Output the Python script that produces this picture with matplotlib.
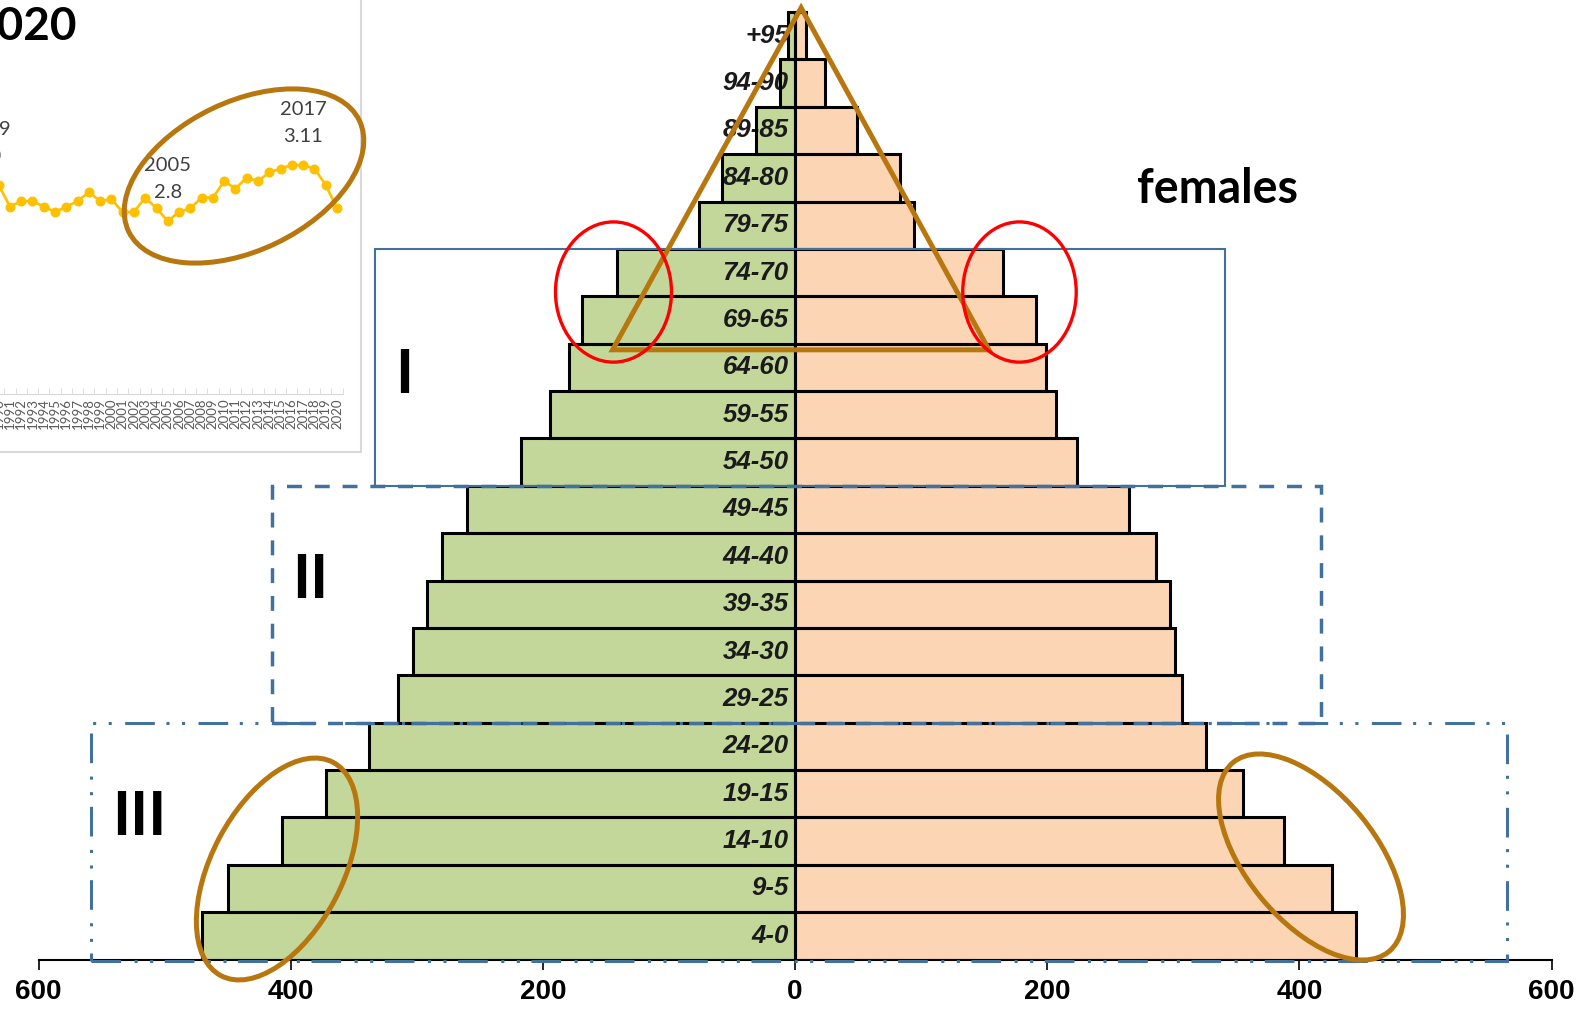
import matplotlib
matplotlib.use("Agg")
import matplotlib.pyplot as plt
from matplotlib.patches import Rectangle, Ellipse, Polygon

# -------- data --------
age_groups = ["4-0", "9-5", "14-10", "19-15", "24-20", "29-25", "34-30", "39-35",
              "44-40", "49-45", "54-50", "59-55", "64-60", "69-65", "74-70",
              "79-75", "84-80", "89-85", "94-90", "+95"]
males = [470, 450, 407, 372, 338, 315, 303, 292, 280, 260,
         217, 194, 179, 169, 141, 76, 58, 31, 12, 5.5]
females = [445, 426, 388, 355, 326, 307, 301, 297, 286, 265,
           224, 207, 199, 191, 165, 94, 83, 49, 24, 9]
x_ticks = [-600, -400, -200, 0, 200, 400, 600]

# inset: yearly series (top-left crop of another chart)
years = list(range(1990, 2021))
rate = [3.00, 2.88, 2.91, 2.91, 2.88, 2.85, 2.88, 2.91, 2.96, 2.91,
        2.92, 2.85, 2.85, 2.93, 2.87, 2.80, 2.85, 2.87, 2.93, 2.93,
        3.02, 2.98, 3.04, 3.02, 3.07, 3.09, 3.11, 3.11, 3.09, 3.00, 2.87]
point_labels = [(1989, 3.0, "1989\n3.0"), (2005, 2.8, "2005\n2.8"), (2017, 3.11, "2017\n3.11")]

GREEN = "#C4D79B"
PEACH = "#FCD5B5"
BLUE = "#41719C"
BROWN = "#B8760F"
ARIAL = ["Liberation Sans", "DejaVu Sans"]

W, H = 1587, 1010
fig = plt.figure(figsize=(W / 100, H / 100), dpi=100)

# -------- pyramid --------
ax = fig.add_axes([38.5 / W, 50.5 / H, 1513.1 / W, 959.3 / H])
pos = range(len(age_groups))
# fill first, labels, then outlines on top
ax.barh(pos, [-m for m in males], height=1.0, color=GREEN, linewidth=0, zorder=1)
ax.barh(pos, females, height=1.0, color=PEACH, linewidth=0, zorder=1)
for i, lab in enumerate(age_groups):
    ax.text(-5, i, lab, ha="right", va="center", fontsize=18.5, fontweight="bold",
            fontstyle="italic", family=ARIAL, color="#1a1a1a", zorder=2)
ax.barh(pos, [-m for m in males], height=1.0, fill=False, edgecolor="black", linewidth=2.2, zorder=2.5)
ax.barh(pos, females, height=1.0, fill=False, edgecolor="black", linewidth=2.2, zorder=2.5)

ax.set_xlim(-600, 600)
ax.set_ylim(-0.5, 19.75)
ax.set_xticks(x_ticks)
ax.set_xticklabels([str(abs(v)) for v in x_ticks], fontsize=20, fontweight="bold", family=ARIAL)
ax.set_yticks([])
for s in ["left", "right", "top"]:
    ax.spines[s].set_visible(False)
ax.spines["bottom"].set_linewidth(1.5)
ax.tick_params(axis="x", direction="out", length=7, width=1.2, pad=7)
ax.patch.set_alpha(0)

# group boxes I / II / III
ax.add_patch(Rectangle((-333, 9.5), 674, 5.0, fill=False, edgecolor=BLUE, lw=1.5, zorder=3))
ax.add_patch(Rectangle((-415, 4.5), 832, 5.0, fill=False, edgecolor=BLUE, lw=2.5,
                       linestyle=(0, (4.3, 3.7)), zorder=3))
ax.add_patch(Rectangle((-558, -0.53), 1123, 5.03, fill=False, edgecolor=BLUE, lw=2.2,
                       linestyle=(0, (9.7, 4.4, 1, 4.1, 1, 3.8)), zorder=3, clip_on=False))

# triangle and red circles
ax.add_patch(Polygon([(4.8, 19.59), (-144.7, 12.37), (153.8, 12.37)], closed=True, fill=False,
                     edgecolor=BROWN, lw=3.6, zorder=5, clip_on=False))
ax.add_patch(Ellipse((-144, 13.59), 92, 2.96, fill=False, edgecolor="red", lw=2.4, zorder=5))
ax.add_patch(Ellipse((178, 13.59), 90, 2.96, fill=False, edgecolor="red", lw=2.4, zorder=5))

# -------- inset (cropped line chart) --------
ins = fig.add_axes([-7.0 / W, (H - 394) / H, 349.6 / W, 335.5 / H])
ins.plot(years, rate, color="#FFC000", lw=1.9, marker="o", ms=6.2, clip_on=False)
for x, y, t in point_labels:
    ins.text(x, y + 0.11, t, ha="center", va="bottom", fontsize=14.5, family="Lato",
             color="#404040", linespacing=1.75)
ins.set_xlim(1989.5, 2020.5)
ins.set_ylim(1.842, 3.7)
ins.set_xticks(years)
ins.set_xticklabels([str(y) for y in years], rotation=90, fontsize=9.5, family="Lato", color="#595959")
ins.set_xticks([y + 0.5 for y in years], minor=True)
ins.tick_params(axis="x", which="major", length=0, pad=3)
ins.tick_params(axis="x", which="minor", length=4, direction="in", color="#D9D9D9")
ins.set_yticks([])
for s in ["left", "right", "top"]:
    ins.spines[s].set_visible(False)
ins.spines["bottom"].set_color("#D9D9D9")
ins.patch.set_alpha(0)

# -------- overlay (pixel coordinates) --------
ov = fig.add_axes([0, 0, 1, 1])
ov.set_xlim(0, W)
ov.set_ylim(H, 0)
ov.axis("off")
ov.patch.set_alpha(0)

ov.add_patch(Rectangle((-5, -5), 366, 457, fill=False, edgecolor="#D9D9D9", lw=1.5))
ov.text(77, 40, "2020", ha="right", va="baseline", fontsize=33, fontweight="bold", family="Lato")
ov.add_patch(Ellipse((244, 176), 256, 149, angle=-25.7, fill=False, edgecolor=BROWN, lw=3.6))

ov.text(1217, 203, "females", ha="center", va="baseline", fontsize=33.5, fontweight="bold", family="Lato")
ov.text(404, 393, "I", ha="center", va="baseline", fontsize=44, fontweight="bold", family="Lato")
ov.text(310, 598, "II", ha="center", va="baseline", fontsize=44, fontweight="bold", family="Lato")
ov.text(139, 835, "III", ha="center", va="baseline", fontsize=44, fontweight="bold", family="Lato")

ov.add_patch(Ellipse((277, 869), 241, 131, angle=-62.3, fill=False, edgecolor=BROWN, lw=3.6))
ov.add_patch(Ellipse((1311, 857), 245, 129, angle=-129.5, fill=False, edgecolor=BROWN, lw=3.6))

fig.savefig("out.png", dpi=100)
